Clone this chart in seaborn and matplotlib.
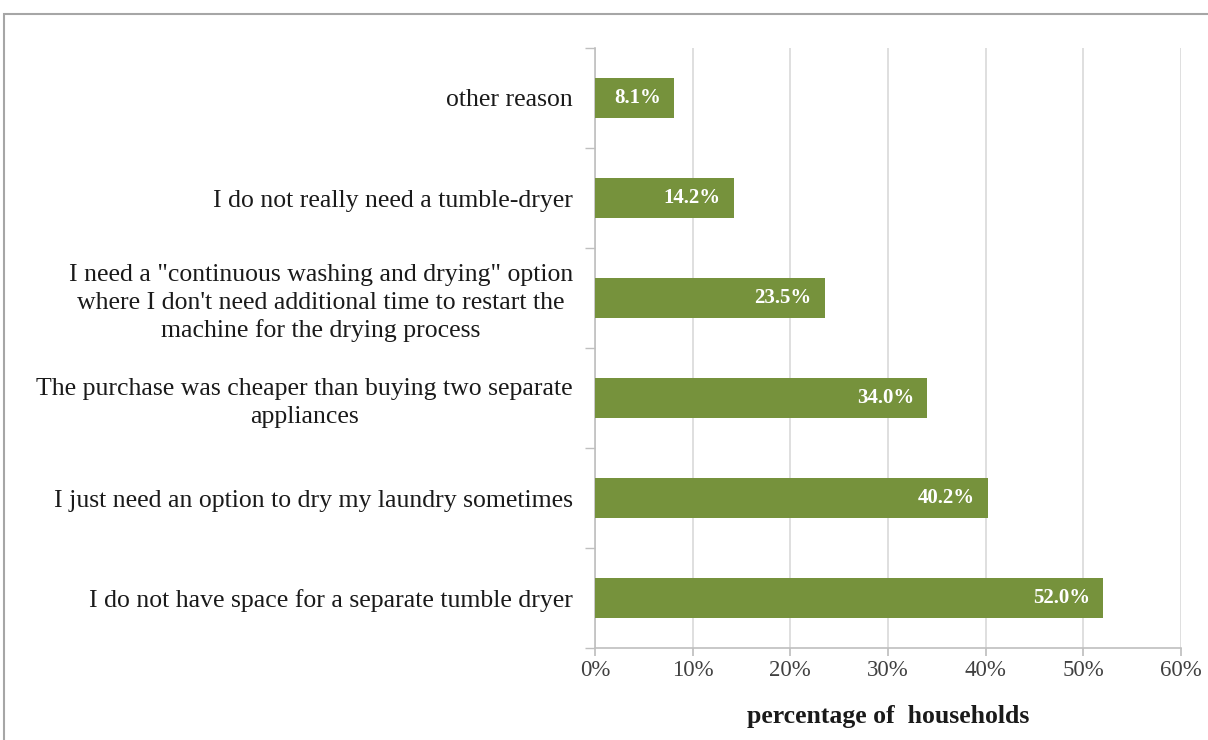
import matplotlib
matplotlib.use("Agg")
import matplotlib.pyplot as plt
import seaborn as sns
import pandas as pd
from matplotlib.patches import Rectangle
from matplotlib.ticker import FixedLocator

categories = [
    "other reason",
    "I do not really need a tumble-dryer",
    "I need a \"continuous washing and drying\" option\nwhere I don't need additional time to restart the\nmachine for the drying process",
    "The purchase was cheaper than buying two separate\nappliances",
    "I just need an option to dry my laundry sometimes",
    "I do not have space for a separate tumble dryer",
]
values = [8.1, 14.2, 23.5, 34.0, 40.2, 52.0]
xticks = [0, 10, 20, 30, 40, 50, 60]
xlabel = "percentage of  households"

sns.set_theme(style="white")
plt.rcParams["font.family"] = ["Liberation Serif", "DejaVu Serif"]

df = pd.DataFrame({"cat": categories, "val": values})

fig = plt.figure(figsize=(12.08, 7.4), dpi=100)
ax = fig.add_axes([595/1208, 1-648/740, (1181-595)/1208, (648-48)/740])

sns.barplot(data=df, x="val", y="cat", orient="h", color="#76923C",
            saturation=1, width=0.4, ax=ax, zorder=3, edgecolor="none")

ax.set_xlim(0, 60)
ax.set_ylim(5.5, -0.5)
ax.set_xticks(xticks)
ax.set_xticklabels([f"{t}%" for t in xticks], fontsize=16.5, color="#404040")
ax.tick_params(axis="x", length=6, color="#BFBFBF", pad=3, direction="out", bottom=True)
ax.xaxis.grid(True, color="#D9D9D9", linewidth=1.2, zorder=0)
ax.set_axisbelow(True)

ax.set_yticks(range(len(categories)))
ax.set_yticklabels(categories, fontsize=18.5, color="#1a1a1a", multialignment="center",
                   linespacing=1.3)
ax.tick_params(axis="y", which="major", length=0, pad=16)
ax.yaxis.set_minor_locator(FixedLocator([i - 0.5 for i in range(len(categories) + 1)]))
ax.tick_params(axis="y", which="minor", length=7, color="#BFBFBF", left=True)

for s in ["top", "right"]:
    ax.spines[s].set_visible(False)
for s in ["left", "bottom"]:
    ax.spines[s].set_color("#BFBFBF")
    ax.spines[s].set_linewidth(1.2)

ax.set_ylabel("")
ax.set_xlabel(xlabel, fontsize=18.5, fontweight="bold", color="#1a1a1a", labelpad=17)

for i, v in enumerate(values):
    ax.text(v - 1.3, i, f"{v:.1f}%", ha="right", va="center", color="white",
            fontsize=15, fontweight="bold", zorder=4)

fig.patches.append(Rectangle((4/1208, -0.1), 1.2, 1-14/740 + 0.1, transform=fig.transFigure,
                             fill=False, edgecolor="#A6A6A6", linewidth=1.5))

fig.savefig("out.png", dpi=100)
